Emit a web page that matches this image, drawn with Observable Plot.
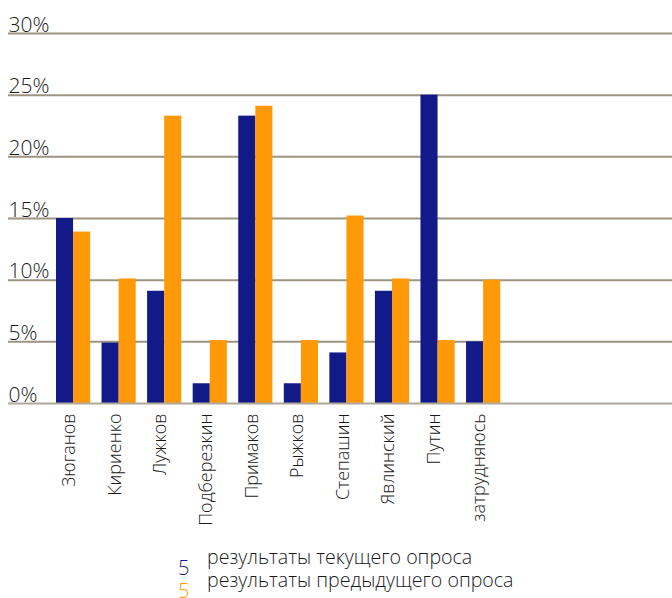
<!DOCTYPE html>
<html>
<head>
<meta charset="utf-8">
<script src="https://cdn.jsdelivr.net/npm/d3@7"></script>
<script src="https://cdn.jsdelivr.net/npm/@observablehq/plot@0.6"></script>
<style>
  html, body { margin: 0; padding: 0; background: #fff; }
  body { width: 672px; height: 598px; overflow: hidden; font-family: "Open Sans", sans-serif; }
  #legend { position: relative; font-size: 19.6px; font-weight: 300; color: #1a1a1a; line-height: 23px; margin-top: 5px; }
  #legend .row { display: flex; align-items: baseline; padding-left: 178px; }
  #legend .sym { width: 29px; position: relative; top: 11px; font-size: 20px; }
</style>
</head>
<body>
<div id="chart"></div>
<div id="legend"></div>
<script>
const names = ["Зюганов", "Кириенко", "Лужков", "Подберезкин", "Примаков", "Рыжков", "Степашин", "Явлинский", "Путин", "затрудняюсь"];
const current = [15.0, 4.9, 9.1, 1.6, 23.3, 1.6, 4.1, 9.1, 25.0, 5.0];
const previous = [13.9, 10.1, 23.3, 5.1, 24.1, 5.1, 15.2, 10.1, 5.1, 10.0];
const yTicks = [0, 5, 10, 15, 20, 25, 30];
const seriesLabels = ["результаты текущего опроса", "результаты предыдущего опроса"];
const colors = ["#121a88", "#ff9908"];

const data = names.map((name, i) => ({name, current: current[i], previous: previous[i]}));
const half = 17.1;

const chart = Plot.plot({
  width: 672,
  height: 540,
  marginLeft: 8,
  marginRight: 0,
  marginTop: 33,
  marginBottom: 137,
  style: {fontFamily: "'Open Sans', sans-serif", fontWeight: 300, color: "#1a1a1a", background: "#fff"},
  x: {domain: names, insetLeft: 36.6, insetRight: 160.4, padding: 0.25, round: false, axis: null, label: null},
  y: {domain: [0, 30], axis: null},
  marks: [
    Plot.ruleY(yTicks.filter(d => d > 0), {stroke: "#9d9482", strokeWidth: 2}),
    Plot.barY(data, {x: "name", y: "current", fill: colors[0], insetRight: half}),
    Plot.barY(data, {x: "name", y: "previous", fill: colors[1], insetLeft: half}),
    Plot.ruleY([0], {stroke: "#b0a89a", strokeWidth: 2}),
    Plot.text(yTicks, {y: d => d, text: d => d + "%", frameAnchor: "left", textAnchor: "start", lineAnchor: "bottom", dy: -2, fontSize: 21, fill: "#1a1a1a"}),
    Plot.axisX({tickSize: 0, tickPadding: 10, tickRotate: -90, fontSize: 18, dx: -4, fill: "#1a1a1a", label: null})
  ]
});
document.getElementById("chart").appendChild(chart);

const legend = document.getElementById("legend");
seriesLabels.forEach((label, i) => {
  const row = document.createElement("div");
  row.className = "row";
  const sym = document.createElement("span");
  sym.className = "sym";
  sym.style.color = colors[i];
  sym.textContent = "5";
  const txt = document.createElement("span");
  txt.textContent = label;
  row.appendChild(sym);
  row.appendChild(txt);
  legend.appendChild(row);
});
</script>
</body>
</html>
